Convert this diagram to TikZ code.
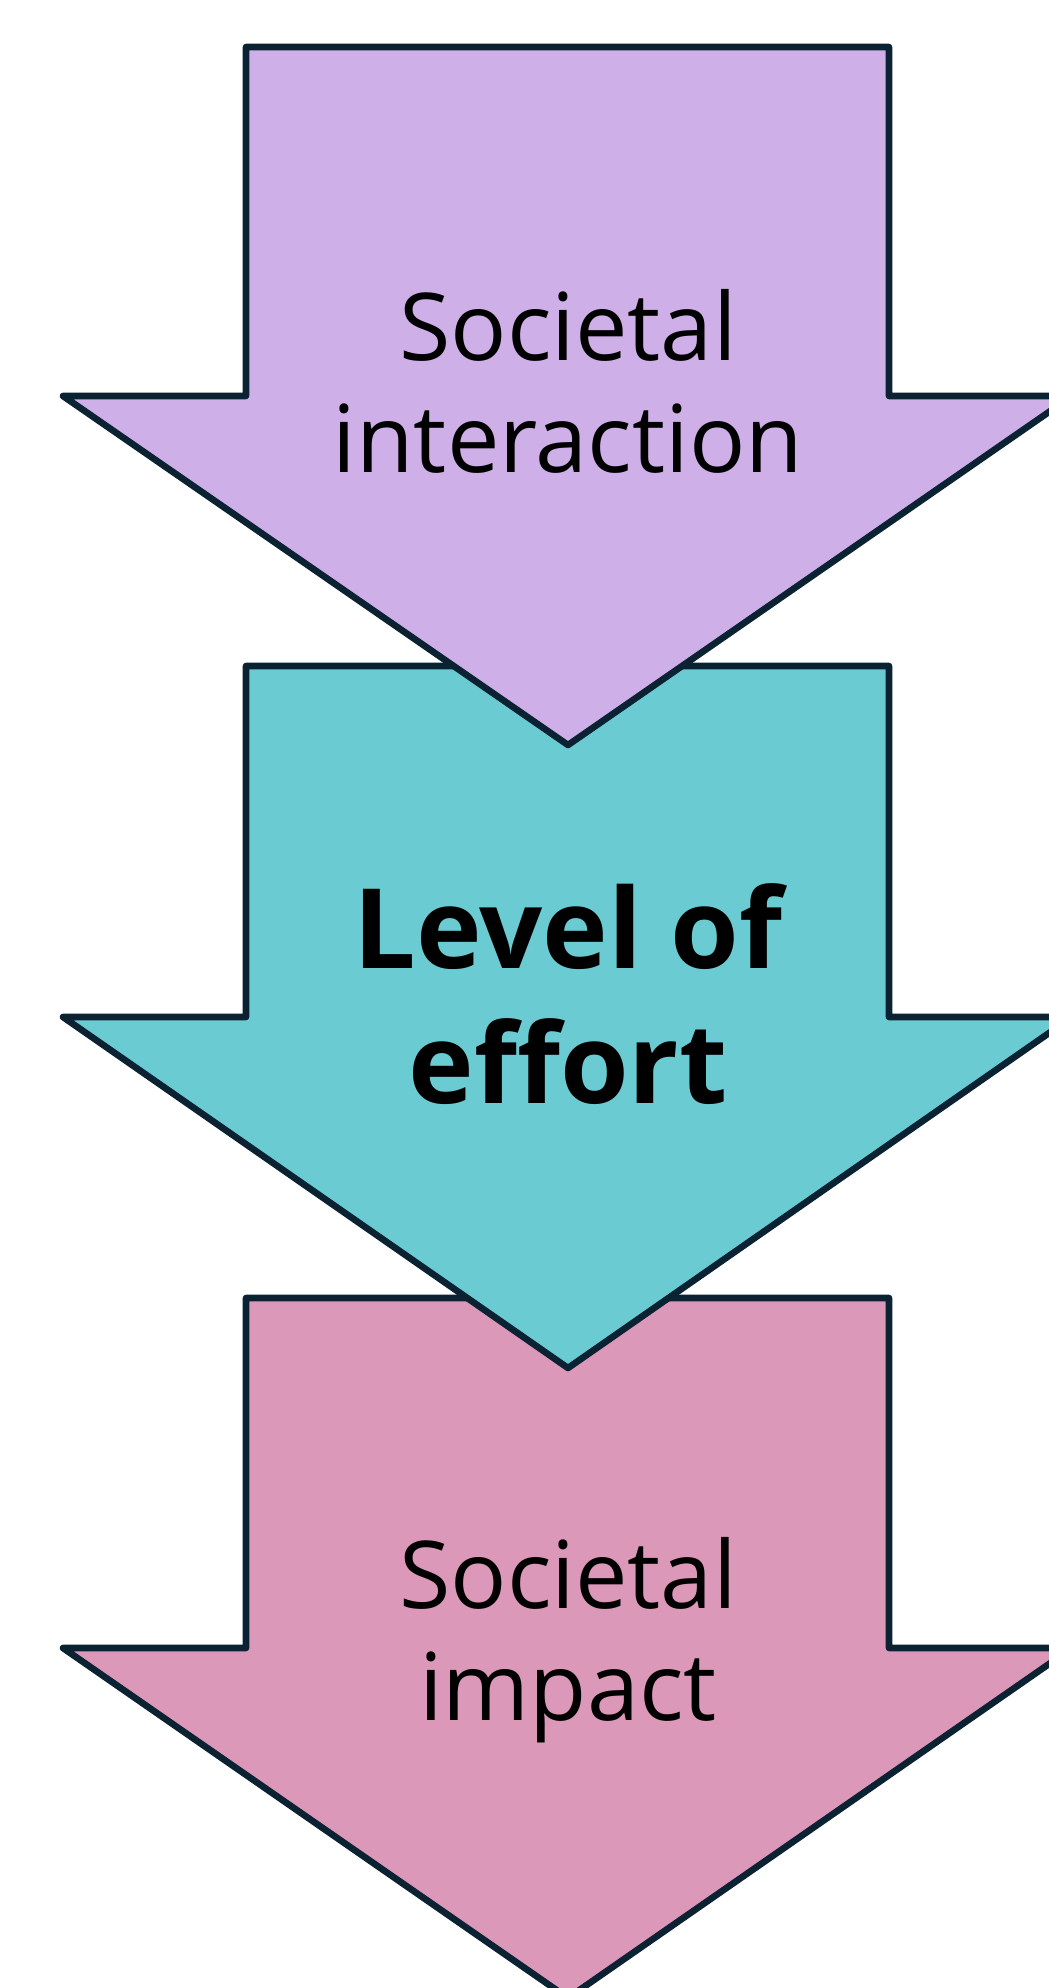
\documentclass[tikz,border=0pt]{standalone}
\usepackage{fontspec}
\setmainfont{Open Sans}
\definecolor{outline}{HTML}{0B2233}
\definecolor{lavender}{HTML}{CFAFE7}
\definecolor{teal}{HTML}{6BCBD3}
\definecolor{rose}{HTML}{DB98B8}
\begin{document}
\begin{tikzpicture}[x=0.5pt, y=-0.5pt,
	blockarrow/.style = {draw=outline, line width=3.3pt, line join=round},
	label/.style = {inner sep=0pt, align=center, text=black,
		font=\fontsize{46.8}{56}\selectfont},
	boldlabel/.style = {inner sep=0pt, align=center, text=black,
		font=\fontsize{55.5}{67.5}\selectfont\bfseries}]
	\useasboundingbox (0,0) rectangle (1049,1988);
	\fill[white] (0,0) rectangle (1049,1988);
	\clip (0,0) rectangle (1049,1988);
	% arrows, bottom one first
	\draw[blockarrow, fill=rose]	(246,1298) -- (889,1298) -- (889,1648) -- (1072,1648) -- (568,1998) -- (63,1648) -- (246,1648) -- cycle;
	\draw[blockarrow, fill=teal]	(246,666) -- (889,666) -- (889,1017) -- (1072,1017) -- (568,1368) -- (63,1017) -- (246,1017) -- cycle;
	\draw[blockarrow, fill=lavender]	(246,47) -- (889,47) -- (889,396) -- (1072,396) -- (568,745) -- (63,396) -- (246,396) -- cycle;
	% texts
	\node (interaction) at (568, 393.6)	[label]	{\strut Societal\\\strut interaction};
	\node (effort) at (568, 1008.5)	[boldlabel]	{\strut Level of\\\strut effort};
	\node (impact) at (568, 1641.6)	[label]	{\strut Societal\\\strut impact};
\end{tikzpicture}
\end{document}
